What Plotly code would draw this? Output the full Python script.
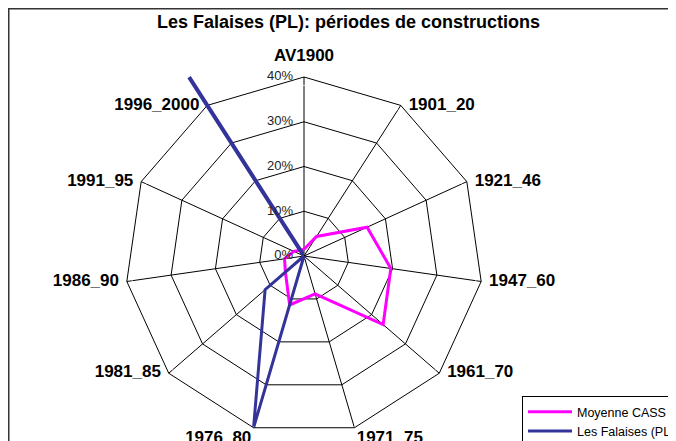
import plotly.graph_objects as go

# ---- data ----
categories = ['AV1900', '1901_20', '1921_46', '1947_60', '1961_70', '1971_75',
              '1976_80', '1981_85', '1986_90', '1991_95', '1996_2000']
moyenne_cass = [0.015, 0.052, 0.155, 0.196, 0.234, 0.088, 0.114, 0.055, 0.044, 0.025, 0.015]
les_falaises = [0.0, 0.0, 0.0, 0.0, 0.0, 0.0, 0.40, 0.115, 0.0, 0.0, 0.475]
radial_ticks = [0, 0.1, 0.2, 0.3, 0.4]
radial_tick_labels = ['0%', '10%', '20%', '30%', '40%']
series_names = ['Moyenne CASS', 'Les Falaises (PL)']
title_text = 'Les Falaises (PL): périodes de constructions'

# ---- label styling (Excel-like placement beside each vertex) ----
label_positions = (['top center'] + ['middle right'] * 4 + ['bottom right', 'bottom left']
                   + ['middle left'] * 4)
label_pads = [17] + [11] * 4 + [2, 2] + [11] * 4   # invisible marker sizes -> text offset
tick_label_pad = 16

# ---- geometry (pixels) ----
W, H = 676, 441
OFF = 8                    # page body margin that offsets the figure
cx, cy = 304 - OFF, 256 - OFF   # polar centre inside the figure
R40 = 179                  # radius of the 40% ring
R50 = R40 * 0.5 / 0.4      # radius of the overflow subplot (range 0..50%)

FONT = 'Liberation Sans, Arial, sans-serif'
MAGENTA = '#FF00FF'
NAVY = '#333399'

main_domain = dict(x=[(cx - R40) / W, (cx + R40) / W],
                   y=[(H - cy - R40) / H, (H - cy + R40) / H])


def hidden_angular():
    return dict(type='category', categoryorder='array', categoryarray=categories,
                period=len(categories), rotation=90, direction='clockwise',
                showline=False, showgrid=False, showticklabels=False, ticks='')


fig = go.Figure()

fig.add_trace(go.Scatterpolar(
    r=moyenne_cass + [moyenne_cass[0]],
    theta=categories + [categories[0]],
    mode='lines', line=dict(color=MAGENTA, width=3),
    name=series_names[0], subplot='polar'))

fig.add_trace(go.Scatterpolar(
    r=les_falaises[:10], theta=categories[:10],
    mode='lines', line=dict(color=NAVY, width=3),
    name=series_names[1], subplot='polar'))

# category labels, placed at the outer ring through the polar scales
fig.add_trace(go.Scatterpolar(
    r=[radial_ticks[-1]] * len(categories), theta=categories,
    mode='markers+text', text=categories, textposition=label_positions,
    marker=dict(size=label_pads, color='rgba(0,0,0,0)'),
    textfont=dict(family=FONT, size=17, color='black', weight='bold'),
    cliponaxis=False, showlegend=False, hoverinfo='skip', subplot='polar'))

# segment that overflows the 40% ring, drawn on a larger quarter subplot
fig.add_trace(go.Scatterpolar(
    r=[les_falaises[9], les_falaises[10], les_falaises[0]],
    theta=[categories[9], categories[10], categories[0]],
    mode='lines', line=dict(color=NAVY, width=4),
    name=series_names[1], showlegend=False, subplot='polar2'))

# radial tick labels, left of the AV1900 spoke (circular helper subplot, same scale)
fig.add_trace(go.Scatterpolar(
    r=radial_ticks, theta=[categories[0]] * len(radial_ticks),
    mode='markers+text', text=radial_tick_labels, textposition='middle left',
    marker=dict(size=tick_label_pad, color='rgba(0,0,0,0)'),
    textfont=dict(family=FONT, size=13, color='#222222'),
    cliponaxis=False, showlegend=False, hoverinfo='skip', subplot='polar3'))

fig.update_layout(
    width=W, height=H, autosize=False,
    margin=dict(l=0, r=0, t=0, b=0),
    paper_bgcolor='white', plot_bgcolor='white',
    font=dict(family=FONT, color='black'),
    title=dict(text=title_text, x=(348.5 - OFF) / W, xanchor='center',
               y=1 - (22 - OFF) / H, yanchor='middle', yref='container',
               font=dict(family=FONT, size=18, color='black', weight='bold')),
    polar=dict(
        domain=main_domain,
        gridshape='linear', bgcolor='rgba(0,0,0,0)',
        radialaxis=dict(range=[0, 0.4], tickvals=radial_ticks, angle=90,
                        showline=False, showticklabels=False, ticks='',
                        showgrid=True, gridcolor='black', gridwidth=1),
        angularaxis=dict(type='category', categoryorder='array', categoryarray=categories,
                         period=len(categories), rotation=90, direction='clockwise',
                         showline=True, linecolor='black', linewidth=1,
                         showgrid=True, gridcolor='black', gridwidth=1,
                         ticks='', showticklabels=False)),
    polar2=dict(
        domain=dict(x=[(cx - R50) / W, cx / W],
                    y=[(H - cy) / H, (H - cy + R50) / H]),
        sector=[90, 180], bgcolor='rgba(0,0,0,0)',
        radialaxis=dict(range=[0, 0.5], showline=False, showgrid=False,
                        showticklabels=False, ticks=''),
        angularaxis=hidden_angular()),
    polar3=dict(
        domain=main_domain, bgcolor='rgba(0,0,0,0)',
        radialaxis=dict(range=[0, 0.4], showline=False, showgrid=False,
                        showticklabels=False, ticks=''),
        angularaxis=hidden_angular()),
    legend=dict(x=(522 - OFF) / W, y=(H - (396 - OFF)) / H, xanchor='left', yanchor='top',
                bordercolor='black', borderwidth=1, bgcolor='white',
                font=dict(family=FONT, size=12.5, color='black'),
                tracegroupgap=0, itemwidth=44),
    shapes=[dict(type='rect', xref='paper', yref='paper',
                 x0=0.5 / W, x1=1.2, y0=-0.2, y1=1 - 0.5 / H,
                 line=dict(color='#333333', width=2), fillcolor='rgba(0,0,0,0)',
                 layer='above')],
)

fig.write_html('out.html')
